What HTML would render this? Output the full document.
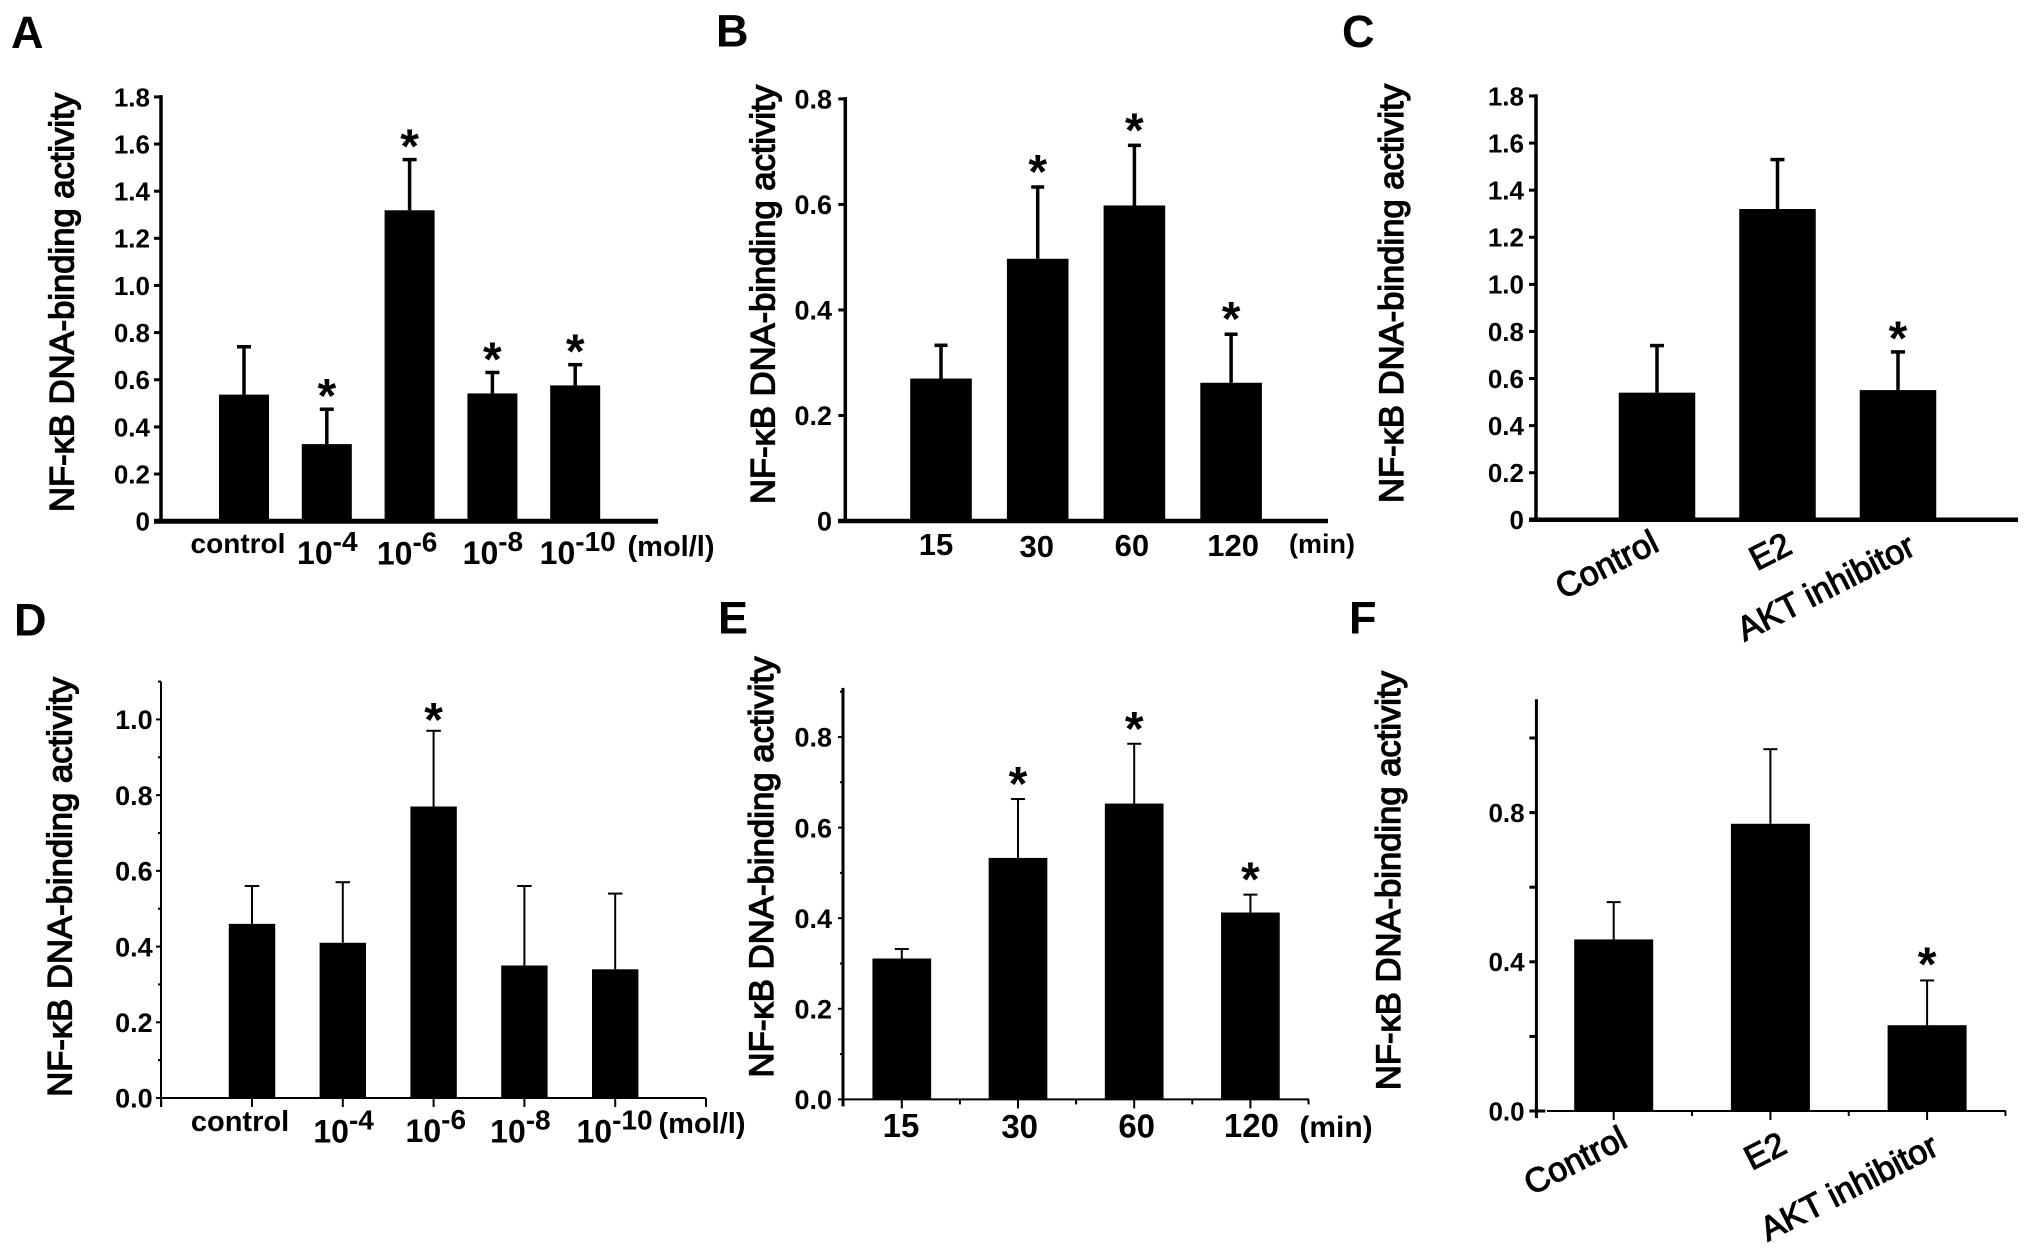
<!DOCTYPE html>
<html lang="en">
<head>
<meta charset="utf-8">
<title>NF-κB DNA-binding activity panels</title>
<style>
html,body{margin:0;padding:0;background:#fff;}
svg{display:block;font-family:"Liberation Sans",Arial,sans-serif;}
</style>
</head>
<body>
<svg id="figure" xmlns="http://www.w3.org/2000/svg" width="2031" height="1258" viewBox="0 0 2031 1258">
<rect x="0" y="0" width="2031" height="1258" fill="#fff"/>
</svg>
<script>
// ---- Panel A data ----
const panelACategories = ["control", "10^-4", "10^-6", "10^-8", "10^-10"];
const panelAValues = [0.537, 0.327, 1.319, 0.542, 0.576];
const panelAErrorTops = [0.74, 0.475, 1.534, 0.631, 0.664];
const panelASignificant = [false, true, true, true, true];
const panelATicks = [0, 0.2, 0.4, 0.6, 0.8, 1.0, 1.2, 1.4, 1.6, 1.8];
const panelATickLabels = ["0", "0.2", "0.4", "0.6", "0.8", "1.0", "1.2", "1.4", "1.6", "1.8"];
const panelAMinorTicks = [];

// ---- Panel B data ----
const panelBCategories = ["15", "30", "60", "120"];
const panelBValues = [0.27, 0.497, 0.598, 0.262];
const panelBErrorTops = [0.333, 0.633, 0.712, 0.354];
const panelBSignificant = [false, true, true, true];
const panelBTicks = [0, 0.2, 0.4, 0.6, 0.8];
const panelBTickLabels = ["0", "0.2", "0.4", "0.6", "0.8"];
const panelBMinorTicks = [];

// ---- Panel C data ----
const panelCCategories = ["Control", "E2", "AKT inhibitor"];
const panelCValues = [0.54, 1.32, 0.551];
const panelCErrorTops = [0.74, 1.53, 0.713];
const panelCSignificant = [false, false, true];
const panelCTicks = [0, 0.2, 0.4, 0.6, 0.8, 1.0, 1.2, 1.4, 1.6, 1.8];
const panelCTickLabels = ["0", "0.2", "0.4", "0.6", "0.8", "1.0", "1.2", "1.4", "1.6", "1.8"];
const panelCMinorTicks = [];

// ---- Panel D data ----
const panelDCategories = ["control", "10^-4", "10^-6", "10^-8", "10^-10"];
const panelDValues = [0.46, 0.41, 0.77, 0.35, 0.34];
const panelDErrorTops = [0.56, 0.57, 0.97, 0.56, 0.54];
const panelDSignificant = [false, false, true, false, false];
const panelDTicks = [0, 0.2, 0.4, 0.6, 0.8, 1.0];
const panelDTickLabels = ["0.0", "0.2", "0.4", "0.6", "0.8", "1.0"];
const panelDMinorTicks = [0.1, 0.3, 0.5, 0.7, 0.9, 1.1];

// ---- Panel E data ----
const panelECategories = ["15", "30", "60", "120"];
const panelEValues = [0.311, 0.533, 0.653, 0.4125];
const panelEErrorTops = [0.332, 0.663, 0.785, 0.452];
const panelESignificant = [false, true, true, true];
const panelETicks = [0, 0.2, 0.4, 0.6, 0.8];
const panelETickLabels = ["0.0", "0.2", "0.4", "0.6", "0.8"];
const panelEMinorTicks = [0.1, 0.3, 0.5, 0.7, 0.9];

// ---- Panel F data ----
const panelFCategories = ["Control", "E2", "AKT inhibitor"];
const panelFValues = [0.46, 0.77, 0.23];
const panelFErrorTops = [0.56, 0.97, 0.35];
const panelFSignificant = [false, false, true];
const panelFTicks = [0, 0.2, 0.4, 0.6, 0.8, 1.0];
const panelFTickLabels = ["0.0", "", "0.4", "", "0.8", ""];
const panelFMinorTicks = [];

const yTitleText = "NF-κB DNA-binding activity";

const panels = [
  {id:"a", letter:"A", letterX:11, letterY:48,
   categories:panelACategories, values:panelAValues, errorTops:panelAErrorTops, significant:panelASignificant,
   ticks:panelATicks, tickLabels:panelATickLabels, minorTicks:panelAMinorTicks,
   axisX:161, baseY:521.2, topY:96.9, yMax:1.8, x0:244, step:82.8, barW:50,
   xStart:154, xEnd:658, yAxisW:3.5, xAxisW:5, tickLen:7, tickW:3, capW:14, capH:3.5, stemW:3.5,
   tickFont:26, tickRight:150, starGap:18,
   labelY:564, labelFont:32, expFont:28, expDy:-13, wordFont:28, rotate:0,
   labelNudgeX:[-6,0.5,-2.5,0.5,2.5], labelNudgeY:[-11,0,0.5,0,0],
   unit:"(mol/l)", unitX:671, unitY:556, unitFont:29,
   titleX:73.7, titleY:302.5, titleLen:419},
  {id:"b", letter:"B", letterX:716, letterY:46.7,
   categories:panelBCategories, values:panelBValues, errorTops:panelBErrorTops, significant:panelBSignificant,
   ticks:panelBTicks, tickLabels:panelBTickLabels, minorTicks:panelBMinorTicks,
   axisX:845.3, baseY:521, topY:98.9, yMax:0.8, x0:941, step:96.7, barW:61.6,
   xStart:838, xEnd:1328, yAxisW:3.5, xAxisW:4.5, tickLen:7, tickW:3, capW:13, capH:3.5, stemW:3.5,
   tickFont:27, tickRight:832, starGap:20,
   labelY:556, labelFont:31, expFont:25, expDy:-12, wordFont:28, rotate:0,
   labelNudgeX:[-5,-1,-2.5,2], labelNudgeY:[-1,1,0,0],
   unit:"(min)", unitX:1322, unitY:553, unitFont:27,
   titleX:774.6, titleY:294.5, titleLen:419},
  {id:"c", letter:"C", letterX:1342, letterY:47,
   categories:panelCCategories, values:panelCValues, errorTops:panelCErrorTops, significant:panelCSignificant,
   ticks:panelCTicks, tickLabels:panelCTickLabels, minorTicks:panelCMinorTicks,
   axisX:1536, baseY:519.8, topY:96, yMax:1.8, x0:1657, step:120.5, barW:76.5,
   xStart:1529, xEnd:2018, yAxisW:3.5, xAxisW:4.5, tickLen:7, tickW:3, capW:14, capH:3.5, stemW:3.5,
   tickFont:26, tickRight:1524, starGap:18.5,
   labelY:564, labelFont:34, expFont:25, expDy:-12, wordFont:34, rotate:-27,
   labelNudgeX:[-50.5,-7.5,-72.5], labelNudgeY:[0,-13,23],
   unit:"", unitX:0, unitY:0, unitFont:0,
   titleX:1403, titleY:293.5, titleLen:419},
  {id:"d", letter:"D", letterX:14, letterY:635.7,
   categories:panelDCategories, values:panelDValues, errorTops:panelDErrorTops, significant:panelDSignificant,
   ticks:panelDTicks, tickLabels:panelDTickLabels, minorTicks:panelDMinorTicks,
   axisX:161, baseY:1098, topY:682.7, yMax:1.097, x0:252, step:90.8, barW:46.4,
   xStart:161, xEnd:706, yAxisW:2, xAxisW:2, tickLen:5, tickW:2, capW:14.5, capH:2, stemW:2,
   tickFont:27, tickRight:152.7, starGap:16,
   labelY:1142.5, labelFont:32, expFont:28, expDy:-13, wordFont:29, rotate:0,
   labelNudgeX:[-12,0.8,2.2,-4,-0.7], labelNudgeY:[-11.7,0,-0.5,0,0],
   xTickMode:"full", yExtend:9,
   unit:"(mol/l)", unitX:702, unitY:1133, unitFont:29,
   titleX:71.7, titleY:887, titleLen:419.6},
  {id:"e", letter:"E", letterX:718, letterY:633.6,
   categories:panelECategories, values:panelEValues, errorTops:panelEErrorTops, significant:panelESignificant,
   ticks:panelETicks, tickLabels:panelETickLabels, minorTicks:panelEMinorTicks,
   axisX:843, baseY:1099.4, topY:689.4, yMax:0.905, x0:901.8, step:116.2, barW:58.7,
   xStart:843, xEnd:1309, yAxisW:3, xAxisW:2, tickLen:5, tickW:2, capW:14, capH:2, stemW:2,
   tickFont:27, tickRight:832, starGap:20,
   labelY:1137, labelFont:33, expFont:25, expDy:-12, wordFont:28, rotate:0,
   labelNudgeX:[-0.8,1.7,2.5,1], labelNudgeY:[0,1,0.5,0],
   xTickMode:"half", yExtend:7,
   unit:"(min)", unitX:1336, unitY:1137, unitFont:30,
   titleX:773, titleY:867, titleLen:421},
  {id:"f", letter:"F", letterX:1349, letterY:633.6,
   categories:panelFCategories, values:panelFValues, errorTops:panelFErrorTops, significant:panelFSignificant,
   ticks:panelFTicks, tickLabels:panelFTickLabels, minorTicks:panelFMinorTicks,
   axisX:1536.4, baseY:1111, topY:700.7, yMax:1.1, x0:1613.7, step:156.7, barW:79,
   xStart:1547, xEnd:2006, yAxisW:3, xAxisW:2, tickLen:7, tickW:3, capW:14, capH:2, stemW:2,
   tickFont:26, tickRight:1524.6, starGap:21,
   labelY:1160, labelFont:34, expFont:25, expDy:-12, wordFont:34, rotate:-27,
   labelNudgeX:[-38.7,-5.5,-78.4], labelNudgeY:[0,-9.4,27],
   xTickMode:"half", yExtend:7, zeroTickExtra:9,
   unit:"", unitX:0, unitY:0, unitFont:0,
   titleX:1400, titleY:880.6, titleLen:419}
];

const svg = document.getElementById('figure');
const NS = "http://www.w3.org/2000/svg";

function make(tag, attrs, parent) {
  const el = document.createElementNS(NS, tag);
  for (const k in attrs) el.setAttribute(k, attrs[k]);
  (parent || svg).appendChild(el);
  return el;
}

function drawLine(parent, x1, y1, x2, y2, w) {
  return make('line', {x1:x1, y1:y1, x2:x2, y2:y2, stroke:'#000', 'stroke-width':w}, parent);
}

function drawPanel(p) {
  const xScale = i => p.x0 + i * p.step;
  const yScale = v => p.baseY - (v / p.yMax) * (p.baseY - p.topY);

  const g = make('g', {});
  
  

  const letter = make('text', {x:p.letterX, y:p.letterY, 'font-size':45, 'font-weight':'bold', fill:'#000'}, g);
  letter.textContent = p.letter;
  
  

  const title = make('text', {
    x:p.titleX, y:p.titleY, 'font-size':34, fill:'#000', stroke:'#000', 'stroke-width':1.3,
    'text-anchor':'middle', textLength:p.titleLen, lengthAdjust:'spacingAndGlyphs',
    transform:'rotate(-90 ' + p.titleX + ' ' + p.titleY + ')'
  }, g);
  title.textContent = yTitleText;
  
  

  // bars and error bars
  p.categories.forEach(function (cat, i) {
    const cx = xScale(i);
    const yTop = yScale(p.values[i]);
    const bar = make('rect', {x:cx - p.barW / 2, y:yTop, width:p.barW, height:p.baseY - yTop, fill:'#000'}, g);
    
    

    const errY = yScale(p.errorTops[i]);
    const stem = drawLine(g, cx, yTop, cx, errY, p.stemW);
    
    
    const cap = drawLine(g, cx - p.capW / 2, errY, cx + p.capW / 2, errY, p.capH);
    
    

    if (p.significant[i]) {
      const star = make('text', {x:cx, y:errY - p.starGap + 21, 'font-size':48, 'font-weight':'bold', 'text-anchor':'middle', fill:'#000'}, g);
      star.textContent = '*';
      
      
    }

    // category labels
    const lx = cx + p.labelNudgeX[i];
    const ly = p.labelY + p.labelNudgeY[i];
    if (p.rotate) {
      const rot = make('text', {
        x:lx, y:ly + 12, 'font-size':p.wordFont, fill:'#000', stroke:'#000', 'stroke-width':1.1,
        'text-anchor':'middle', transform:'rotate(' + p.rotate + ' ' + lx + ' ' + ly + ')'
      }, g);
      rot.textContent = cat;
      
      
    } else if (cat.indexOf('^') >= 0) {
      const parts = cat.split('^');
      const t = make('text', {x:lx, y:ly, 'font-size':p.labelFont, 'font-weight':'bold', 'text-anchor':'middle', fill:'#000'}, g);
      t.appendChild(document.createTextNode(parts[0]));
      const sup = make('tspan', {dy:p.expDy, 'font-size':p.expFont}, t);
      sup.textContent = parts[1];
      
      
    } else {
      const isWord = /[a-z]/i.test(cat);
      const t = make('text', {x:lx, y:ly, 'font-size':isWord ? p.wordFont : p.labelFont, 'font-weight':'bold', 'text-anchor':'middle', fill:'#000'}, g);
      t.textContent = cat;
      
      
    }
  });

  // y axis
  const yAxis = drawLine(g, p.axisX, p.topY - p.yAxisW / 2, p.axisX, p.baseY + (p.yExtend || 0), p.yAxisW);
  
  

  p.ticks.forEach(function (v, i) {
    const y = yScale(v);
    const right = v === 0 && p.zeroTickExtra ? p.axisX + p.zeroTickExtra : p.axisX;
    const tick = drawLine(g, p.axisX - p.tickLen, y, right, y, p.tickW);
    
    
    if (p.tickLabels[i]) {
      const label = make('text', {x:p.tickRight, y:y + p.tickFont * 0.36, 'font-size':p.tickFont, 'font-weight':'bold', 'text-anchor':'end', fill:'#000'}, g);
      label.textContent = p.tickLabels[i];
      
      
    }
  });

  p.minorTicks.forEach(function (v) {
    const y = yScale(v);
    const tick = drawLine(g, p.axisX - p.tickLen + 2, y, p.axisX, y, p.tickW);
    
    
  });

  // x axis
  const xAxis = drawLine(g, p.xStart, p.baseY, p.xEnd, p.baseY, p.xAxisW);
  
  

  if (p.xTickMode === 'full') {
    for (let k = -1; k <= p.categories.length; k++) {
      const tx = xScale(k);
      const tick = drawLine(g, tx, p.baseY, tx, p.baseY + 9, 2);
      
      
    }
  } else if (p.xTickMode === 'half') {
    const n = p.categories.length;
    for (let k = 0; k <= n * 2 - 1; k++) {
      const tx = xScale(k / 2);
      const major = k % 2 === 0;
      const tick = drawLine(g, tx, p.baseY, tx, p.baseY + (major ? 9 : 5), 2);
      
      
    }
  }

  if (p.unit) {
    const unit = make('text', {x:p.unitX, y:p.unitY, 'font-size':p.unitFont, 'font-weight':'bold', 'text-anchor':'middle', fill:'#000'}, g);
    unit.textContent = p.unit;
    
    
  }
}

panels.forEach(drawPanel);
</script>
</body>
</html>
